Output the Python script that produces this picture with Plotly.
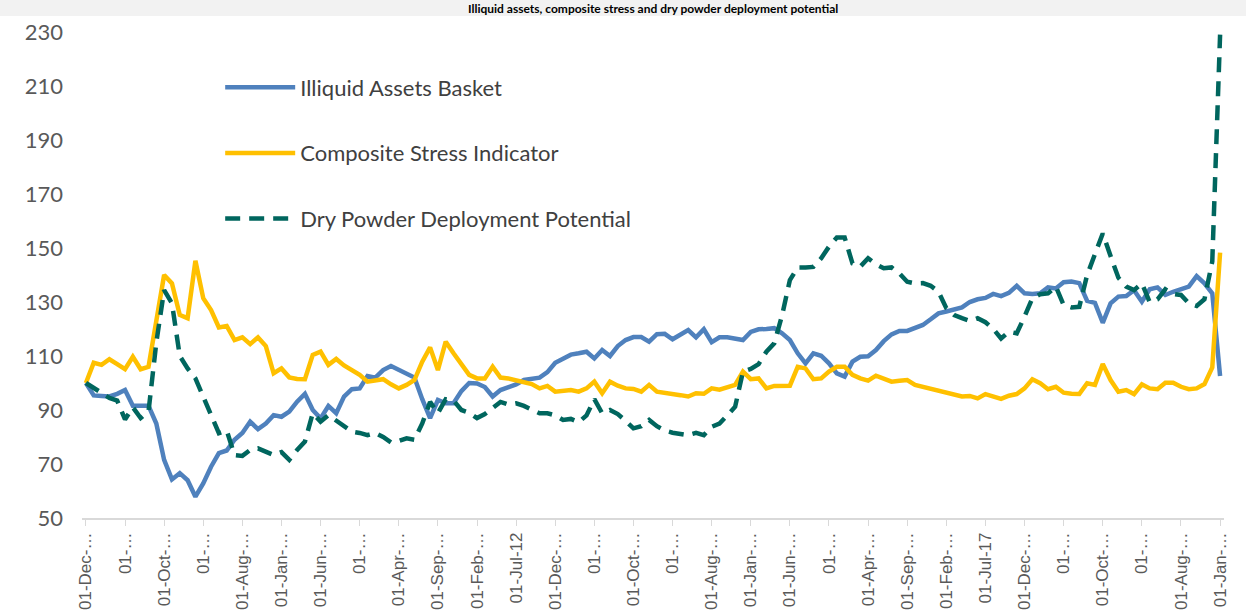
import plotly.graph_objects as go
import pandas as pd

# Monthly categories, Dec 2007 .. Jan 2020 (146 months)
months = pd.date_range("2007-12-01", "2020-01-01", freq="MS")
categories = [d.strftime("%d-%b-%y") for d in months]

illiquid_assets = [
    100, 95.4, 95.2, 95, 96, 97.4, 91.6, 91.6, 91.6, 85,
    71.5, 64.3, 66.6, 64, 57.9, 62.8, 69, 74, 75, 79,
    81.5, 85.7, 82.9, 85, 88.1, 87.5, 89.4, 93.1, 96, 90,
    86.9, 91.5, 88.8, 95, 97.7, 98, 102.6, 102, 104.8, 106.3,
    105, 103.5, 102, 94, 87, 93.7, 92.5, 92.5, 97, 100,
    99.8, 98.5, 95, 97.4, 98.3, 99.5, 101.1, 101.5, 102, 104,
    107.5, 109, 110.5, 111, 111.6, 109.1, 112.2, 110, 113.7, 115.9,
    117, 117, 115.3, 118.1, 118.2, 116.2, 118, 119.6, 116.9, 119.9,
    115.1, 116.9, 116.9, 116.5, 115.9, 118.9, 119.9, 120, 120.3, 118.4,
    115.9, 111, 107.3, 111, 110.1, 107.3, 103.6, 102.4, 107.9, 109.7,
    109.9, 112.2, 115.5, 118, 119.3, 119.3, 120.5, 121.5, 123.6, 125.8,
    126.5, 127.3, 128, 130, 131, 131.5, 133, 132.2, 133.4, 136,
    133.2, 133, 133.2, 135.4, 135, 137.3, 137.6, 137, 130.4, 129.7,
    122.3, 129.5, 132, 132.2, 134.4, 130.1, 134.7, 135.4, 132.6, 133.8,
    134.7, 135.7, 139.6, 136.9, 133.2, 102.6,
]

composite_stress = [
    100, 107.5, 106.7, 108.8, 107, 105.1, 109.7, 105.1, 106, 123,
    140, 136.9, 125.2, 124, 145.3, 131.4, 127, 120.6, 121.1, 115.9,
    116.9, 114.4, 116.9, 113.7, 103.6, 105.4, 102.1, 101.5, 101.4, 110.4,
    111.6, 106.7, 108.9, 106.5, 104.6, 103, 100.5, 101, 101.4, 99.5,
    98, 99.3, 101.1, 107.9, 113.2, 104.8, 115.3, 111, 106.7, 103,
    101.7, 101.7, 106, 102, 101.7, 101, 100, 99.6, 98, 98.9,
    96.8, 97, 97.4, 96.8, 98, 100.5, 96.2, 100.5, 99, 98,
    97.8, 96.8, 99.3, 96.8, 96.5, 96, 95.5, 95, 96.2, 96,
    98, 97.5, 98.4, 99.3, 104.2, 101.4, 101.7, 98, 98.9, 98.9,
    99, 106, 105.4, 101.4, 101.7, 104.2, 106, 106, 103, 101.7,
    100.9, 102.7, 101.4, 100.5, 100.8, 101.1, 99.3, 98.6, 97.8, 97.2,
    96.4, 95.8, 95, 95.2, 94.3, 95.9, 95, 94.1, 95.3, 95.9,
    98, 101.4, 99.9, 97.7, 98.6, 96.4, 96, 95.9, 99.9, 99.3,
    107, 101.1, 96.8, 97.4, 95.9, 99.5, 98, 97.7, 100.1, 100.1,
    98.6, 97.7, 98, 99.6, 105.8, 148.3,
]

dry_powder = [
    100, 98, 96, 94.5, 93.5, 86.5, 91, 87, 89.4, 115,
    134.4, 129.5, 110, 105.4, 101.7, 95, 88.1, 81.4, 82.4, 73.3,
    73, 75.2, 75.8, 74.5, 73.3, 74.4, 71.5, 75.2, 78.3, 88.8,
    85.7, 88.1, 86, 84.4, 82, 81.5, 80.7, 81.5, 80, 78,
    78.5, 79.5, 79, 85, 93, 88.8, 94, 93.5, 90, 89,
    87, 88.5, 91, 93, 92, 92.5, 91.5, 90, 88.8, 88.8,
    88, 86.3, 86.7, 85.5, 88, 94, 88.8, 90, 88.5, 86,
    83.2, 84, 86.3, 84, 82.4, 81.6, 81, 80.7, 81.5, 80.7,
    83.8, 85, 88, 91.2, 104.2, 105.2, 107, 111.6, 114.7, 125,
    138.1, 142.8, 142.8, 143, 146.2, 150.5, 153.9, 153.9, 144.3, 143.1,
    146.2, 144, 142.5, 142.8, 140.6, 137.5, 136.9, 137, 136, 133.8,
    127.7, 125.2, 124, 123, 124, 122.5, 120, 116.5, 119, 118.4,
    124.6, 131.4, 132.9, 133.2, 135.7, 128.9, 128, 128.2, 140, 148,
    155.4, 147, 139, 135.7, 134.4, 136.9, 130, 131, 134.7, 133,
    132.6, 129.5, 128.5, 131, 145, 229,
]

series_names = ["Illiquid Assets Basket", "Composite Stress Indicator",
                "Dry Powder Deployment Potential"]

tick_step = 5
tick_vals = categories[::tick_step]
tick_text = [
    "01-Dec-…", "01-…", "01-Oct-…", "01-…", "01-Aug-…", "01-Jan-…",
    "01-Jun-…", "01-…", "01-Apr-…", "01-Sep-…", "01-Feb-…", "01-Jul-12",
    "01-Dec-…", "01-…", "01-Oct-…", "01-…", "01-Aug-…", "01-Jan-…",
    "01-Jun-…", "01-…", "01-Apr-…", "01-Sep-…", "01-Feb-…", "01-Jul-17",
    "01-Dec-…", "01-…", "01-Oct-…", "01-…", "01-Aug-…", "01-Jan-…",
]

title_text = "Illiquid assets, composite stress and dry powder deployment potential"

fig = go.Figure()
fig.add_trace(go.Scatter(x=categories, y=illiquid_assets, name=series_names[0],
                         mode="lines", legendgroup="a",
                         line=dict(color="#4F81BD", width=4.5)))
fig.add_trace(go.Scatter(x=categories, y=composite_stress, name=series_names[1],
                         mode="lines", legendgroup="b",
                         line=dict(color="#FFC000", width=4.5)))
fig.add_trace(go.Scatter(x=categories, y=dry_powder, name=series_names[2],
                         mode="lines", legendgroup="c",
                         line=dict(color="#00665E", width=4.5, dash="15px,9px")))

# light grey title band at the top of the page
fig.add_shape(type="rect", xref="paper", yref="paper",
              x0=-0.08, x1=1.03, y0=1 + 16 / 486, y1=1 + 33 / 486,
              fillcolor="#F2F2F2", line=dict(width=0), layer="below")

fig.add_annotation(text="<b>" + title_text + "</b>", xref="paper", yref="paper",
                   x=0.5, y=1 + 24 / 486, xanchor="center", yanchor="middle",
                   showarrow=False, font=dict(family="Lato", size=12, color="#000000"))

fig.update_layout(
    width=1246, height=616,
    margin=dict(l=82, r=22, t=32, b=98, autoexpand=False),
    paper_bgcolor="white", plot_bgcolor="white",
    showlegend=True,
    legend=dict(x=0.121, y=0.929, xanchor="left", yanchor="top",
                bgcolor="rgba(0,0,0,0)", tracegroupgap=34,
                traceorder="grouped", itemwidth=70,
                font=dict(family="Lato", size=22, color="#404040")),
)
fig.update_xaxes(
    type="category", range=[-0.5, len(categories) - 0.5],
    tickmode="array", tickvals=tick_vals, ticktext=tick_text,
    tickangle=-90, ticks="outside", ticklen=6, tickcolor="#D9D9D9",
    showline=True, linecolor="#D9D9D9", linewidth=1.5,
    showgrid=False, zeroline=False, automargin=False,
    tickfont=dict(family="Liberation Sans", size=17, color="#595959"),
)
fig.update_yaxes(
    range=[50, 230], tickmode="linear", tick0=50, dtick=20,
    showgrid=False, zeroline=False, showline=False, ticks="",
    ticklabelstandoff=18, automargin=False,
    tickfont=dict(family="Lato", size=22, color="#595959"),
)

fig.write_html("out.html", config={"displayModeBar": False},
               post_script="document.body.style.margin='0';")
